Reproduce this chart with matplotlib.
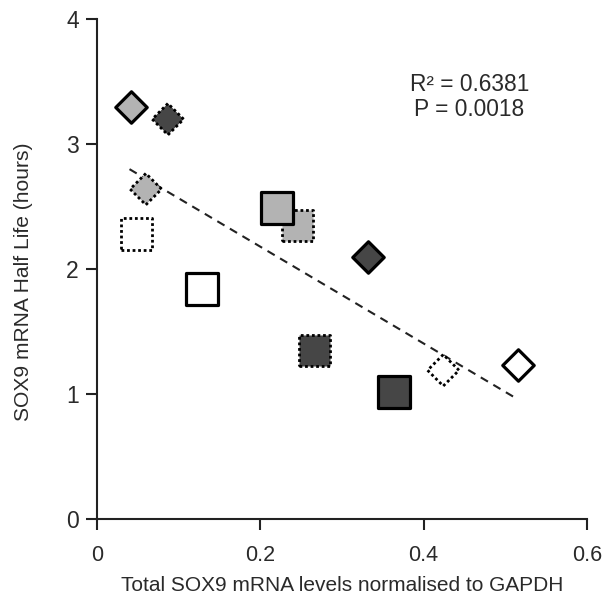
import matplotlib
matplotlib.use("Agg")
import matplotlib.pyplot as plt
import numpy as np

plt.rcParams['font.family'] = ['Liberation Sans', 'DejaVu Sans']

# data: (x, y, marker, fill, edge style)
x_vals = [0.042, 0.087, 0.060, 0.049, 0.129, 0.221, 0.246, 0.332, 0.266, 0.364, 0.424, 0.516]
y_vals = [3.30, 3.20, 2.64, 2.28, 1.84, 2.49, 2.35, 2.10, 1.35, 1.02, 1.19, 1.23]
shapes = ['D', 'D', 'D', 's', 's', 's', 's', 'D', 's', 's', 'D', 'D']
fills = ['gray', 'dark', 'gray', 'white', 'white', 'gray', 'gray', 'dark', 'dark', 'dark', 'white', 'white']
edges = ['solid', 'dotted', 'dotted', 'dotted', 'solid', 'solid', 'dotted', 'solid', 'dotted', 'solid', 'dotted', 'solid']

trend_x = [0.040, 0.512]
trend_y = [2.80, 0.97]

x_ticks = [0, 0.2, 0.4, 0.6]
x_ticklabels = ['0', '0.2', '0.4', '0.6']
y_ticks = [0, 1, 2, 3, 4]
y_ticklabels = ['0', '1', '2', '3', '4']

fill_colors = {'gray': '#b3b3b3', 'dark': '#464646', 'white': '#ffffff'}

fig = plt.figure(figsize=(6.09, 6.02), dpi=100)
ax = fig.add_axes([0.159, 0.138, 0.805, 0.830])

ax.plot(trend_x, trend_y, color='#222222', lw=1.5, ls=(0, (4, 3)), zorder=1)

for x, y, m, f, e in zip(x_vals, y_vals, shapes, fills, edges):
    ms = 16.0 if m == 'D' else 22.5
    if e == 'solid':
        ax.scatter([x], [y], s=ms**2, marker=m, facecolor=fill_colors[f],
                   edgecolor='black', linewidths=2.3, zorder=3)
    else:
        ax.scatter([x], [y], s=ms**2, marker=m, facecolor=fill_colors[f],
                   edgecolor='black', linewidths=2.0, linestyles=[(0, (1, 1.0))], zorder=2)

ax.set_xlim(0, 0.6)
ax.set_ylim(0, 4)
ax.set_xticks(x_ticks)
ax.set_xticklabels(x_ticklabels)
ax.set_yticks(y_ticks)
ax.set_yticklabels(y_ticklabels)
for s in ['top', 'right']:
    ax.spines[s].set_visible(False)
for s in ['left', 'bottom']:
    ax.spines[s].set_linewidth(1.5)
    ax.spines[s].set_color('#222222')
ax.tick_params(axis='both', direction='out', length=8, width=1.5, color='#222222',
               labelcolor='#2a2a2a')
ax.tick_params(axis='x', pad=11, labelsize=15.5)
ax.tick_params(axis='y', pad=5, labelsize=16.5)

ax.set_xlabel('Total SOX9 mRNA levels normalised to GAPDH', fontsize=15.0, color='#2a2a2a')
ax.xaxis.set_label_coords(0.5, -0.114)
ax.set_ylabel('SOX9 mRNA Half Life (hours)', fontsize=15.1, color='#2a2a2a')
ax.yaxis.set_label_coords(-0.13, 0.475)

ax.text(0.760, 0.845, 'R² = 0.6381\nP = 0.0018', transform=ax.transAxes, ha='center', va='center',
        fontsize=16.4, color='#2a2a2a', linespacing=1.1)

fig.savefig('out.png', dpi=100)
